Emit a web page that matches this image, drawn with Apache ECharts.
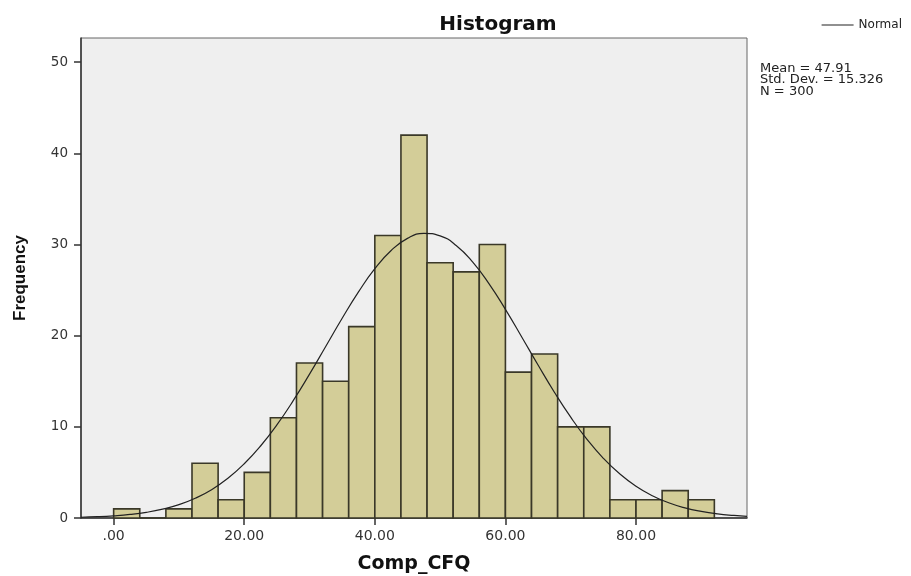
<!DOCTYPE html>
<html>
<head>
<meta charset="utf-8">
<script src="https://cdn.jsdelivr.net/npm/echarts@6/dist/echarts.min.js"></script>
<style>
html,body{margin:0;padding:0;background:#fff;}
#chart{width:911px;height:576px;}
</style>
</head>
<body>
<div id="chart"></div>
<script>
// Histogram bins (lower edge) and frequencies
const binStarts = [0,4,8,12,16,20,24,28,32,36,40,44,48,52,56,60,64,68,72,76,80,84,88];
const binWidth = 4;
const frequencies = [1,0,1,6,2,5,11,17,15,21,31,42,28,27,30,16,18,10,10,2,2,3,2];

// Normal curve (x, frequency)
const curveX = [-5,-2.5,0,2.5,5,7.5,10,12.5,15,17.5,20,22.5,25,27.5,30,32.5,35,37.5,40,42.5,45,47.5,50,52.5,55,57.5,60,62.5,65,67.5,70,72.5,75,77.5,80,82.5,85,87.5,90,92.5,95,97];
const curveY = [0.08,0.14,0.24,0.39,0.62,0.97,1.47,2.17,3.11,4.36,5.95,7.90,10.22,12.87,15.78,18.84,21.91,24.80,27.35,29.35,30.68,31.23,30.95,29.87,28.07,25.69,22.89,19.86,16.78,13.80,11.06,8.62,6.55,4.85,3.49,2.45,1.67,1.11,0.72,0.45,0.28,0.18];

const xTickValues = [0,20,40,60,80];
const xTickLabels = ['.00','20.00','40.00','60.00','80.00'];
const yTickValues = [0,10,20,30,40,50];
const yTickLabels = ['0','10','20','30','40','50'];

const statsLines = ['Mean = 47.91','Std. Dev. = 15.326','N = 300'];

const barData = binStarts.map((s,i)=>[s, s+binWidth, frequencies[i]]);
const curveData = curveX.map((x,i)=>[x, curveY[i]]);

const chart = echarts.init(document.getElementById('chart'));
chart.setOption({
  animation:false,
  backgroundColor:'#ffffff',
  title:{
    text:'Histogram',
    left:493, top:10, textAlign:'center',
    textStyle:{fontFamily:'DejaVu Sans', fontWeight:'bold', fontSize:20, color:'#111'}
  },
  legend:{
    data:[{name:'Normal', icon:'rect', itemStyle:{color:'#222'}}],
    right:4, top:14,
    itemWidth:32, itemHeight:1,
    itemGap:4,
    textStyle:{fontFamily:'DejaVu Sans', fontSize:12, color:'#222'}
  },
  grid:{
    left:81, top:38, right:164, bottom:58,
    containLabel:false, outerBoundsMode:'none',
    show:true, backgroundColor:'#efefef', borderColor:'#666', borderWidth:1
  },
  xAxis:{
    type:'value', min:-5, max:97,
    name:'Comp_CFQ', nameLocation:'middle', nameGap:37,
    nameTextStyle:{fontFamily:'DejaVu Sans', fontWeight:'bold', fontSize:19, color:'#111'},
    axisLine:{show:true, onZero:false, lineStyle:{color:'#333', width:1.5}},
    axisTick:{show:true, length:7, customValues:xTickValues, lineStyle:{color:'#333', width:1.5}},
    axisLabel:{
      customValues:xTickValues,
      formatter:(v)=>xTickLabels[xTickValues.indexOf(v)],
      fontFamily:'DejaVu Sans', fontSize:14, color:'#333', margin:11
    },
    splitLine:{show:false}
  },
  yAxis:{
    type:'value', min:0, max:52.66,
    name:'Frequency', nameLocation:'middle', nameGap:52, nameRotate:90,
    nameTextStyle:{fontFamily:'Liberation Sans', fontWeight:'bold', fontSize:17, color:'#111'},
    axisLine:{show:true, onZero:false, lineStyle:{color:'#333', width:1.5}},
    axisTick:{show:true, length:7, customValues:yTickValues, lineStyle:{color:'#333', width:1.5}},
    axisLabel:{
      customValues:yTickValues,
      formatter:(v)=>yTickLabels[yTickValues.indexOf(v)],
      fontFamily:'DejaVu Sans', fontSize:13.5, color:'#333', margin:13
    },
    splitLine:{show:false}
  },
  graphic:[{
    type:'text', left:760, top:62,
    style:{
      text:statsLines.join('\n'),
      font:'13px "DejaVu Sans"',
      lineHeight:11.5,
      fill:'#222'
    }
  }],
  series:[
    {
      type:'custom',
      name:'Frequency',
      data:barData,
      renderItem:(params, api)=>{
        const p0 = api.coord([api.value(0), 0]);
        const p1 = api.coord([api.value(1), api.value(2)]);
        return {
          type:'rect',
          shape:{x:p0[0], y:p1[1], width:p1[0]-p0[0], height:p0[1]-p1[1]},
          style:{fill:'#d3cd98', stroke:'#3a3828', lineWidth:1.6}
        };
      },
      encode:{x:[0,1], y:2},
      z:2
    },
    {
      type:'line',
      name:'Normal',
      data:curveData,
      smooth:true,
      symbol:'none',
      lineStyle:{color:'#222', width:1.2},
      itemStyle:{color:'#222'},
      z:3
    }
  ]
});
</script>
</body>
</html>
